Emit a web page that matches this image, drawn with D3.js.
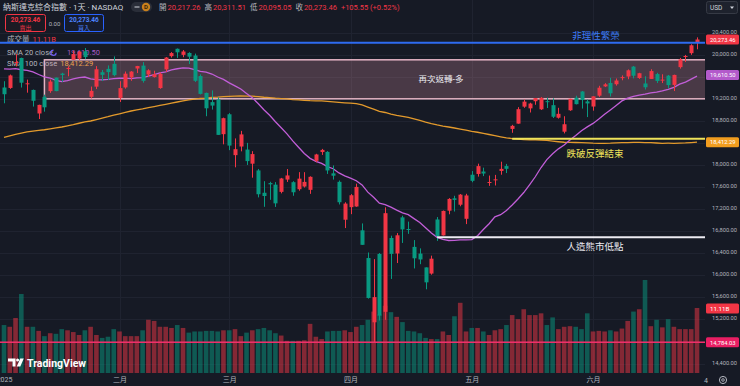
<!DOCTYPE html>
<html>
<head>
<meta charset="utf-8">
<script src="https://cdnjs.cloudflare.com/ajax/libs/d3/7.8.5/d3.min.js"></script>
<style>
    html, body { margin: 0; padding: 0; background: #161a25; }
    svg { display: block; }
    text { font-family: Roboto, "Noto Sans CJK TC", sans-serif; }
</style>
</head>
<body>
<svg id="chart" width="740" height="386"></svg>
<script>
// trading days, Jan 2 - Jun 27 2025
var dates = [
    "01-02","01-03","01-06","01-07","01-08","01-10","01-13","01-14","01-15","01-16","01-17","01-21","01-22","01-23","01-24","01-27","01-28","01-29","01-30","01-31",
    "02-03","02-04","02-05","02-06","02-07","02-10","02-11","02-12","02-13","02-14","02-18","02-19","02-20","02-21","02-24","02-25","02-26","02-27","02-28",
    "03-03","03-04","03-05","03-06","03-07","03-10","03-11","03-12","03-13","03-14","03-17","03-18","03-19","03-20","03-21","03-24","03-25","03-26","03-27","03-28","03-31",
    "04-01","04-02","04-03","04-04","04-07","04-08","04-09","04-10","04-11","04-14","04-15","04-16","04-17","04-21","04-22","04-23","04-24","04-25","04-28","04-29","04-30",
    "05-01","05-02","05-05","05-06","05-07","05-08","05-09","05-12","05-13","05-14","05-15","05-16","05-19","05-20","05-21","05-22","05-23","05-27","05-28","05-29","05-30",
    "06-02","06-03","06-04","06-05","06-06","06-09","06-10","06-11","06-12","06-13","06-16","06-17","06-18","06-20","06-23","06-24","06-25","06-26","06-27"
];

var opens = [
    19403,19395,19851,19938,19469,19359,18932,19234,19337,19582,19655,19756,19906,19926,20060,19234,19418,19680,19741,19832,
    19215,19404,19585,19747,19800,19638,19592,19393,19731,19971,20105,19995,20029,19982,19611,19305,19138,19185,18557,
    18918,18177,18333,18278,18022,17900,17495,17671,17642,17511,17734,17687,17559,17608,17548,18074,18233,18236,17847,17693,17006,
    17234,17246,16814,16312,15147,16386,15337,16675,16394,17049,16838,16514,16393,16142,16030,17011,16722,17170,17394,17278,17023,
    17822,17836,17880,17681,17720,17890,17979,18652,18748,19056,19025,19154,19008,19155,19083,18855,18602,18990,19218,19331,19151,
    19058,19255,19423,19485,19462,19591,19602,19782,19575,19476,19558,19647,19538,19618,19450,19772,19970,20025,20217
];
var highs = [
    19517,19638,20007,19944,19546,19366,19091,19273,19548,19582,19670,19789,20068,20060,20119,19420,19791,19721,19803,19967,
    19517,19693,19700,19795,19863,19734,19707,19675,19955,20045,20110,20082,20042,20017,19641,19311,19350,19225,18857,
    18939,18480,18617,18399,18249,17926,17705,17694,17688,17764,17925,17705,17869,17868,17793,18201,18290,18249,17990,17717,17323,
    17471,17660,16939,16412,16292,16402,17231,16717,16764,17079,16972,16637,16487,16142,16355,17055,17173,17398,17440,17472,17476,
    17888,18022,17950,17807,17819,18058,18018,18726,19047,19185,19127,19212,19229,19218,19206,19035,18882,19200,19254,19340,19184,
    19244,19434,19482,19579,19566,19622,19731,19793,19669,19607,19734,19669,19643,19630,19636,19939,19994,20187,20312
];
var lows = [
    19117,19379,19785,19402,19309,19057,18832,18965,19306,19335,19505,19606,19906,19902,19917,19204,19374,19520,19536,19606,
    19141,19381,19524,19665,19491,19593,19584,19380,19686,19945,19939,19952,19829,19503,19277,18882,19003,18543,18373,
    18267,17956,18246,17999,17768,17411,17240,17367,17238,17484,17691,17440,17532,17590,17475,18048,18181,17836,17734,17283,16855,
    17107,17241,16550,15576,14784,15179,15192,15933,16221,16585,16750,16123,16200,15745,16010,16622,16720,17105,17155,17250,16927,
    17685,17788,17797,17620,17627,17822,17852,18582,18747,19035,18950,19090,18996,19031,18850,18839,18571,18980,19096,19021,18867,
    18983,19232,19411,19240,19437,19534,19553,19568,19559,19367,19558,19484,19484,19389,19339,19745,19866,19995,20095
];
var closes = [
    19281,19622,19865,19490,19479,19162,19088,19044,19511,19338,19630,19757,20009,20054,19954,19342,19734,19632,19682,19627,
    19392,19654,19692,19792,19523,19714,19644,19650,19946,20027,20041,20056,19962,19524,19287,19026,19075,18544,18847,
    18350,18285,18553,18069,18196,17468,17436,17648,17303,17754,17809,17504,17751,17692,17784,18189,18272,17899,17804,17323,17299,
    17450,17601,16551,15588,15603,15268,17125,16387,16724,16831,16823,16307,16286,15871,16300,16708,17166,17383,17366,17461,17446,
    17711,17978,17844,17690,17738,17928,17929,18708,19010,19147,19112,19211,19215,19143,18873,18926,18737,19199,19101,19176,19114,
    19243,19399,19460,19298,19530,19591,19715,19616,19662,19407,19701,19521,19546,19447,19631,19913,19974,20168,20273
];
// volume, billions
var volumes = [
    8.2,7.9,9.4,13.5,7.9,7.9,7.2,6.3,6.8,6.7,7.5,7.3,7.0,6.5,7.3,7.9,6.5,6.0,6.2,7.5,
    7.1,6.3,6.3,6.3,7.3,9.1,8.9,7.9,7.9,7.7,8.2,7.7,6.9,7.1,7.1,7.2,7.2,7.1,7.3,
    7.3,7.5,6.3,6.9,7.3,7.5,7.7,7.3,6.8,6.4,5.5,5.5,5.5,5.6,8.4,6.2,5.8,7.1,7.2,7.2,7.3,
    7.0,7.9,8.2,9.1,10.5,10.0,11.5,10.4,9.6,8.7,7.2,7.1,6.8,6.0,5.8,5.8,7.1,6.5,9.7,12.0,7.1,
    7.7,7.7,7.1,6.5,7.3,7.5,8.2,9.9,9.2,10.9,9.9,9.9,10.2,8.2,9.5,7.5,7.9,8.0,7.9,7.5,10.2,
    7.1,7.2,7.1,7.3,7.1,7.6,8.9,10.5,10.9,15.9,8.0,9.1,7.8,9.2,7.9,7.5,7.5,7.5,11.11
];
var sma20 = [
    19741,19736,19744,19725,19712,19686,19639,19596,19575,19533,19509,19527,19559,19583,19593,19558,19544,19540,19549,19565,
    19571,19572,19564,19579,19581,19608,19636,19667,19688,19723,19743,19758,19756,19729,19696,19680,19647,19593,19551,
    19487,19432,19377,19296,19216,19113,18999,18900,18782,18673,18562,18435,18320,18206,18119,18064,18026,17968,17931,17854,17802,
    17760,17713,17637,17506,17413,17305,17278,17233,17181,17132,17098,17026,16956,16860,16766,16687,16651,16630,16632,16640,16640,
    16645,16717,16829,16934,17057,17097,17175,17274,17383,17499,17639,17785,17953,18095,18203,18291,18359,18450,18532,18619,18689,
    18752,18830,18918,18996,19077,19160,19210,19240,19266,19281,19305,19321,19341,19369,19405,19464,19502,19556,19610
];
var sma100 = [
    18500,18528,18555,18578,18597,18612,18624,18637,18653,18670,18687,18708,18730,18755,18780,18796,18822,18847,18873,18902,
    18927,18954,18977,18999,19017,19038,19058,19079,19099,19119,19140,19160,19179,19192,19204,19212,19224,19230,19239,
    19241,19245,19249,19246,19246,19237,19226,19219,19209,19203,19196,19185,19177,19171,19165,19162,19159,19151,19143,19135,19126,
    19118,19110,19086,19049,19012,18972,18950,18922,18898,18879,18860,18833,18806,18775,18748,18724,18704,18687,18669,18649,18629,
    18609,18592,18571,18551,18531,18510,18491,18478,18467,18457,18454,18453,18449,18443,18431,18420,18411,18408,18406,18404,18399,
    18393,18392,18392,18393,18398,18403,18405,18408,18408,18405,18402,18397,18392,18393,18392,18395,18398,18404,18412
];

var priceTicks = [14400,14800,15200,15600,16000,16400,16800,17200,17600,18000,18400,18800,19200,19600,20000,20400];
// labels hidden behind the price tags, as on the reference
var hiddenTickLabels = [14800, 18400, 19600];
var monthStarts = ["01-02","02-03","03-03","04-01","05-01","06-02"];
var monthLabels = ["2025","二月","三月","四月","五月","六月"];

// drawn levels
var levelNames = ["非理性繁榮", "跌破反彈結束", "人造熊市低點"];
var levelPrices = [20213, 18473, 16690];
var levelStarts = [null, "05-12", "04-23"];
var levelColors = ["#2e6bf0", "#efe35a", "#ecebf2"];
var boxPrices = [19905, 19198];
var boxStart = "01-14";
var boxName = "再次返轉-多";
var lowPrice = 14784.03;

window.onload = main;

function main() {
    var width = 740, height = 386;
    var plotRight = 705, plotBottom = 373;
    var upColor = "#f23645", downColor = "#089981";

    var svg = d3.select("#chart");

    var x = d3.scalePoint().domain(dates).range([4, 697]);
    var y = d3.scaleLinear().domain([14400, 20400]).range([363.5, 32.5]);
    var yVol = d3.scaleLinear().domain([0, 11.11]).range([plotBottom, 308]);

    var candles = dates.map(function (d, i) {
        return { date: d, o: opens[i], h: highs[i], l: lows[i], c: closes[i], v: volumes[i] };
    });
    function col(d) { return d.c >= d.o ? upColor : downColor; }

    svg.append("rect").attr("width", width).attr("height", height).attr("fill", "#161a25");
    svg.append("defs").append("clipPath").attr("id", "plot")
        .append("rect").attr("width", plotRight).attr("height", plotBottom);

    // grid
    var grid = svg.append("g").attr("clip-path", "url(#plot)");
    grid.selectAll(".hg").data(priceTicks).enter().append("line")
        .attr("x1", 0).attr("x2", plotRight)
        .attr("y1", function (d) { return Math.round(y(d)) + 0.5; })
        .attr("y2", function (d) { return Math.round(y(d)) + 0.5; })
        .attr("stroke", "#1f2330");
    grid.selectAll(".vg").data(monthStarts.slice(1)).enter().append("line")
        .attr("x1", function (d) { return Math.round(x(d)) + 0.5; })
        .attr("x2", function (d) { return Math.round(x(d)) + 0.5; })
        .attr("y1", 0).attr("y2", plotBottom)
        .attr("stroke", "#1f2330");

    // legend (behind series, like the reference)
    var lg = svg.append("g").attr("font-size", 7.5);
    lg.append("text").attr("x", 3).attr("y", 10).attr("font-size", 8).attr("fill", "#d1d4dc")
        .text("納斯達克綜合指數 · 1天 · NASDAQ");
    lg.append("rect").attr("x", 131).attr("y", 2).attr("width", 21).attr("height", 10).attr("rx", 5).attr("fill", "#2a2e39");
    lg.append("line").attr("x1", 134.5).attr("x2", 139.5).attr("y1", 7).attr("y2", 7).attr("stroke", "#d1d4dc");
    lg.append("circle").attr("cx", 146).attr("cy", 7).attr("r", 4.2).attr("fill", "#c9801c");
    lg.append("text").attr("x", 146).attr("y", 9.3).attr("text-anchor", "middle").attr("font-size", 6)
        .attr("font-weight", "bold").attr("fill", "#3b2608").text("D");

    var ohlc = lg.append("text").attr("x", 159).attr("y", 10);
    [["開", "20,217.26"], ["高", "20,311.51"], ["低", "20,095.05"], ["收", "20,273.46"]].forEach(function (p, i) {
        ohlc.append("tspan").attr("fill", "#b2b5be").attr("dx", i ? 4 : 0).text(p[0]);
        ohlc.append("tspan").attr("fill", upColor).attr("dx", 1).text(p[1]);
    });
    ohlc.append("tspan").attr("fill", upColor).attr("dx", 4).text("+105.55 (+0.52%)");

    lg.append("rect").attr("x", 5.5).attr("y", 14.5).attr("width", 40).attr("height", 17).attr("rx", 2)
        .attr("fill", "#1c1a23").attr("stroke", upColor);
    lg.append("text").attr("x", 25.5).attr("y", 22).attr("text-anchor", "middle").attr("font-size", 6.5)
        .attr("font-weight", "bold").attr("fill", upColor).text("20,273.46");
    lg.append("text").attr("x", 25.5).attr("y", 29.5).attr("text-anchor", "middle").attr("font-size", 6)
        .attr("fill", upColor).text("賣出");
    lg.append("text").attr("x", 54.5).attr("y", 25.5).attr("text-anchor", "middle").attr("font-size", 6)
        .attr("fill", "#b2b5be").text("0.00");
    lg.append("rect").attr("x", 64.5).attr("y", 14.5).attr("width", 39).attr("height", 17).attr("rx", 2)
        .attr("fill", "#161c2e").attr("stroke", "#2962ff");
    lg.append("text").attr("x", 84).attr("y", 22).attr("text-anchor", "middle").attr("font-size", 6.5)
        .attr("font-weight", "bold").attr("fill", "#4d83ff").text("20,273.46");
    lg.append("text").attr("x", 84).attr("y", 29.5).attr("text-anchor", "middle").attr("font-size", 6)
        .attr("fill", "#4d83ff").text("買入");

    var vl = lg.append("text").attr("x", 7).attr("y", 42);
    vl.append("tspan").attr("fill", "#b2b5be").text("成交量");
    vl.append("tspan").attr("fill", upColor).attr("dx", 3).text("11.11B");
    var s20 = lg.append("text").attr("x", 7).attr("y", 55.3);
    s20.append("tspan").attr("fill", "#b2b5be").text("SMA 20 close");
    s20.append("tspan").attr("fill", "#a55cc6").attr("dx", 14).text("19,610.50");
    lg.append("circle").attr("cx", 53.5).attr("cy", 52.8).attr("r", 2.6).attr("fill", "none")
        .attr("stroke", "#6f5cf0").attr("stroke-width", 1.2).attr("stroke-dasharray", "12 4");
    var s100 = lg.append("text").attr("x", 7).attr("y", 66);
    s100.append("tspan").attr("fill", "#b2b5be").text("SMA 100 close");
    s100.append("tspan").attr("fill", "#e8a033").attr("dx", 3).text("18,412.29");

    var plot = svg.append("g").attr("clip-path", "url(#plot)");

    // box zone
    plot.append("rect")
        .attr("x", x(boxStart)).attr("y", y(boxPrices[0]))
        .attr("width", plotRight - x(boxStart) + 2).attr("height", y(boxPrices[1]) - y(boxPrices[0]))
        .attr("fill", "rgba(240,160,175,0.24)")
        .attr("stroke", "#e4b4c4").attr("stroke-width", 1.5);

    // volume
    plot.selectAll(".vol").data(candles).enter().append("rect")
        .attr("x", function (d) { return x(d.date) - 2.3; })
        .attr("width", 4.6)
        .attr("y", function (d) { return yVol(d.v); })
        .attr("height", function (d) { return plotBottom - yVol(d.v); })
        .attr("fill", col).attr("fill-opacity", 0.5);

    // moving averages
    var line = d3.line().x(function (d, i) { return x(dates[i]); }).y(function (d) { return y(d); });
    plot.append("path").datum(sma100).attr("d", line).attr("fill", "none")
        .attr("stroke", "#e39a2c").attr("stroke-width", 1.3);
    plot.append("path").datum(sma20).attr("d", line).attr("fill", "none")
        .attr("stroke", "#c25ed8").attr("stroke-width", 1.3);

    // candles
    var cg = plot.selectAll(".candle").data(candles).enter().append("g");
    cg.append("line")
        .attr("x1", function (d) { return Math.round(x(d.date)) + 0.5; })
        .attr("x2", function (d) { return Math.round(x(d.date)) + 0.5; })
        .attr("y1", function (d) { return y(d.h); })
        .attr("y2", function (d) { return y(d.l); })
        .attr("stroke", col);
    cg.append("rect")
        .attr("x", function (d) { return Math.round(x(d.date)) + 0.5 - 2; })
        .attr("width", 4)
        .attr("y", function (d) { return y(Math.max(d.o, d.c)); })
        .attr("height", function (d) { return Math.max(1, Math.abs(y(d.o) - y(d.c))); })
        .attr("fill", col);

    // horizontal levels
    plot.selectAll(".lvl").data(levelPrices).enter().append("line")
        .attr("x1", function (d, i) { return levelStarts[i] ? x(levelStarts[i]) : 0; })
        .attr("x2", plotRight)
        .attr("y1", function (d) { return y(d); })
        .attr("y2", function (d) { return y(d); })
        .attr("stroke", function (d, i) { return levelColors[i]; })
        .attr("stroke-width", 2);
    plot.append("line").attr("x1", 0).attr("x2", plotRight)
        .attr("y1", y(lowPrice)).attr("y2", y(lowPrice))
        .attr("stroke", "#ef2f6a").attr("stroke-width", 1.5);

    // level labels
    var lblY = [y(levelPrices[0]) - 3.5, y(levelPrices[1]) + 18.5, y(levelPrices[2]) + 12.5];
    svg.selectAll(".lvlText").data(levelNames).enter().append("text")
        .attr("x", function (d, i) { return i ? 595 : 596; })
        .attr("y", function (d, i) { return lblY[i]; })
        .attr("text-anchor", "middle").attr("font-size", 9.5)
        .attr("fill", function (d, i) { return i === 0 ? "#3d7cf5" : levelColors[i]; })
        .text(function (d) { return d; });
    svg.append("text").attr("x", 441).attr("y", (y(boxPrices[0]) + y(boxPrices[1])) / 2 + 3)
        .attr("text-anchor", "middle").attr("font-size", 8.5).attr("fill", "#ececf0").text(boxName);

    // price axis
    var labelTicks = priceTicks.filter(function (d) { return hiddenTickLabels.indexOf(d) < 0; });
    var yAxis = svg.append("g").attr("transform", "translate(711,0)")
        .call(d3.axisRight(y).tickValues(labelTicks).tickSize(0).tickPadding(1).tickFormat(d3.format(",.2f")));
    yAxis.select(".domain").remove();
    yAxis.selectAll("text").attr("fill", "#b2b5be").attr("font-size", 6.2).attr("dy", "0.1em")
        .attr("font-family", "Roboto, sans-serif")
        .attr("textLength", 25).attr("lengthAdjust", "spacingAndGlyphs");

    // price tags
    function tag(yy, label, fill) {
        svg.append("rect").attr("x", 706).attr("y", yy - 5).attr("width", 33).attr("height", 10)
            .attr("rx", 1.5).attr("fill", fill);
        var t = svg.append("text").attr("x", 710).attr("y", yy + 2.2).attr("font-size", 6.2)
            .attr("fill", "#ffffff").text(label);
        if (label.length >= 9) t.attr("textLength", 25.5).attr("lengthAdjust", "spacingAndGlyphs");
    }
    tag(y(closes[closes.length - 1]), "20,273.46", upColor);
    tag(y(sma20[sma20.length - 1]) - 1, "19,610.50", "#b35acb");
    tag(y(sma100[sma100.length - 1]), "18,412.29", "#f19d1f");
    tag(yVol(volumes[volumes.length - 1]) + 0.5, "11.11B", upColor);
    tag(y(lowPrice), "14,784.03", "#e91e63");

    // USD box
    svg.append("rect").attr("x", 706.5).attr("y", 1.5).attr("width", 31).attr("height", 12).attr("rx", 2)
        .attr("fill", "#1e222d").attr("stroke", "#363a45");
    svg.append("text").attr("x", 710).attr("y", 10).attr("font-size", 6.5).attr("fill", "#d1d4dc").text("USD");
    svg.append("path").attr("d", "M730,6.5 L734,6.5 L732,9 Z").attr("fill", "#d1d4dc");

    // time axis
    var xAxis = svg.append("g").attr("transform", "translate(0," + plotBottom + ")")
        .call(d3.axisBottom(x).tickValues(monthStarts).tickSize(0).tickPadding(4)
            .tickFormat(function (d, i) { return monthLabels[i]; }));
    xAxis.select(".domain").remove();
    xAxis.selectAll("text").attr("fill", "#b2b5be").attr("font-size", 7)
        .attr("font-family", "Roboto, 'Noto Sans CJK TC', sans-serif");

    svg.append("text").attr("x", 704).attr("y", 383).attr("font-size", 7).attr("fill", "#b2b5be").text("4");
    svg.append("circle").attr("cx", 723).attr("cy", 380).attr("r", 3.6).attr("fill", "none")
        .attr("stroke", "#b2b5be").attr("stroke-width", 1);
    svg.append("circle").attr("cx", 723).attr("cy", 380).attr("r", 1.3).attr("fill", "none")
        .attr("stroke", "#b2b5be").attr("stroke-width", 0.9);

    // TradingView logo
    var logo = svg.append("g").attr("fill", "#ffffff");
    logo.append("path").attr("d", "M8,358.5 H15.5 V366.5 H12.5 V361.5 H8 Z");
    logo.append("circle").attr("cx", 17.6).attr("cy", 360).attr("r", 1.5);
    logo.append("path").attr("d", "M20.2,358.5 H23.8 L20.3,366.5 H16.7 Z");
    logo.append("text").attr("x", 27).attr("y", 366.5).attr("font-size", 10.5).attr("font-weight", "bold")
        .attr("font-family", "Roboto, sans-serif").text("TradingView");
}
</script>
</body>
</html>
